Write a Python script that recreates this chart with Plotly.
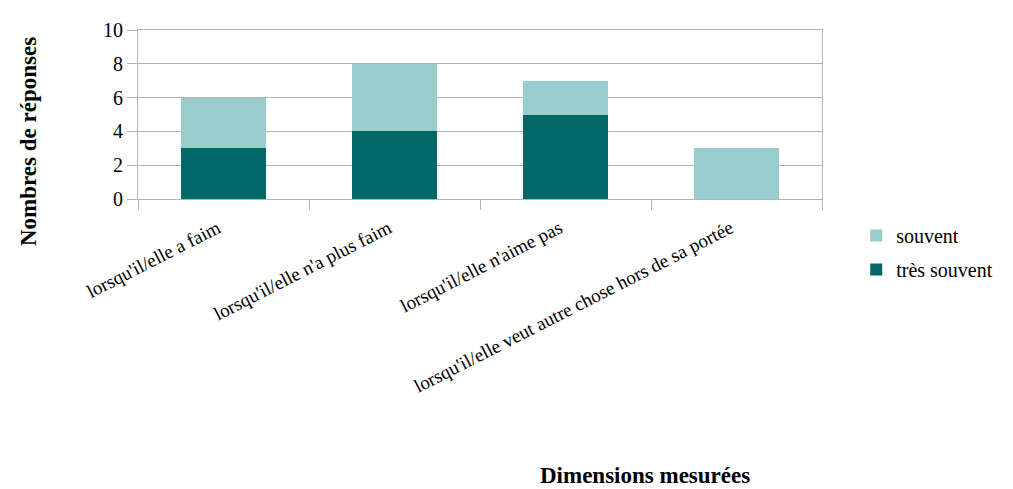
import plotly.graph_objects as go

categories = ["lorsqu'il/elle a faim", "lorsqu'il/elle n'a plus faim",
              "lorsqu'il/elle n'aime pas", "lorsqu'il/elle veut autre chose hors de sa portée"]
tres_souvent = [3, 4, 5, 0]
souvent = [3, 4, 2, 3]
y_ticks = [0, 2, 4, 6, 8, 10]

font = "Liberation Serif"

fig = go.Figure()
fig.add_trace(go.Bar(x=categories, y=tres_souvent, name="très souvent", legendgroup="b",
                     legendrank=2,
                     marker=dict(color="#006666", line=dict(width=0)), width=0.5))
fig.add_trace(go.Bar(x=categories, y=souvent, name="souvent", legendgroup="a",
                     legendrank=1,
                     marker=dict(color="#99cccc", line=dict(width=0)), width=0.5))

fig.update_layout(
    barmode="stack",
    width=1013, height=489,
    margin=dict(l=138, r=191, t=30, b=290),
    paper_bgcolor="white", plot_bgcolor="white",
    font=dict(family=font, color="black", size=19),
    legend=dict(traceorder="grouped", x=1.05, y=-0.10, xanchor="left", yanchor="top",
                font=dict(size=20, family=font), tracegroupgap=5),
    showlegend=True,
)
fig.update_xaxes(
    type="category", tickangle=-27, tickfont=dict(size=19, family=font),
    showline=True, linecolor="#b3b3b3", linewidth=1, mirror=True,
    tickson="boundaries", ticks="outside", ticklen=10, tickcolor="#b3b3b3",
    showgrid=False, ticklabelstandoff=10, ticklabelshift=-6,
)
fig.update_yaxes(
    range=[0, 10], tickvals=y_ticks, tickfont=dict(size=20, family=font),
    showline=True, linecolor="#b3b3b3", linewidth=1, mirror=True,
    showgrid=True, gridcolor="#b3b3b3", gridwidth=1,
    ticks="outside", ticklen=10, tickcolor="#b3b3b3", zeroline=False,
)
fig.add_annotation(text="<b>Dimensions mesurées</b>", xref="paper", yref="paper",
                   x=(645 - 138) / (822 - 138), y=-(475 - 199) / 169, showarrow=False,
                   font=dict(size=23, family=font), xanchor="center", yanchor="middle")
fig.add_annotation(text="<b>Nombres de réponses</b>", xref="paper", yref="paper",
                   x=-(138 - 28) / (822 - 138), y=(199 - 142) / 169, showarrow=False,
                   textangle=-90, font=dict(size=23, family=font),
                   xanchor="center", yanchor="middle")
fig.write_html("out.html")
